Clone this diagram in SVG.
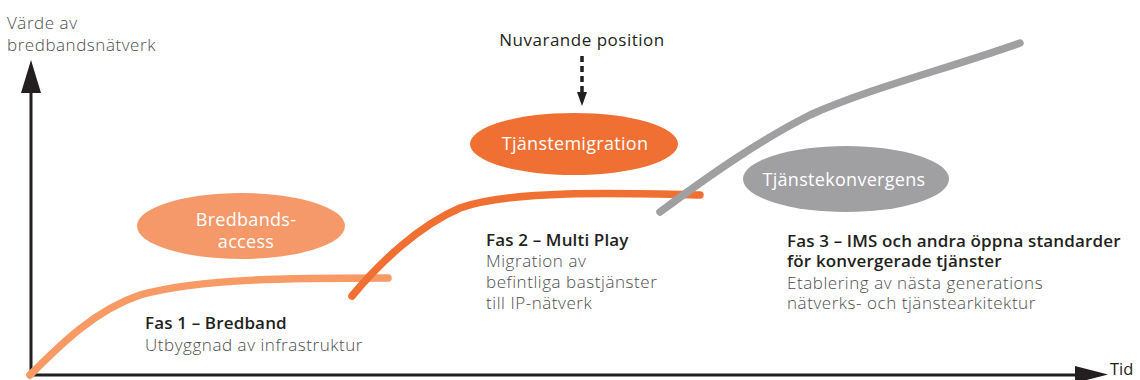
<svg xmlns="http://www.w3.org/2000/svg" width="1140" height="380" viewBox="0 0 1140 380">
  <style>
    .axis { stroke: #231f20; stroke-width: 3; fill: none; }
    .curve { fill: none; stroke-linecap: round; stroke-width: 7.5; }
    .t { font-family: "Open Sans", "Liberation Sans", sans-serif; }
    .light { font-size: 17px; font-weight: 300; fill: #4d4d4f; letter-spacing: 0.55px; }
    .head { font-size: 17px; font-weight: 600; fill: #231f20; letter-spacing: 0.15px; }
    .pill { font-family: "Open Sans", "Liberation Sans", sans-serif; font-size: 18px; font-weight: 400; fill: #ffffff; text-anchor: middle; letter-spacing: 0.3px; }
  </style>
  <rect width="1140" height="380" fill="#ffffff"/>

  <!-- axes -->
  <g id="axes">
    <path class="axis" d="M31,376 L31,90"/>
    <path d="M21,93 L31,60 L41,93 Z" fill="#231f20"/>
    <path class="axis" d="M30,375 L1078,375"/>
    <path d="M1075,366 L1108,374.5 L1075,383 Z" fill="#231f20"/>
    <text class="t light" x="7" y="29">Värde av</text>
    <text class="t light" x="7" y="51">bredbandsnätverk</text>
    <text class="t" x="1110" y="375" style="font-size:16.5px;font-weight:400;fill:#231f20">Tid</text>
  </g>

  <!-- phase curves and the position pointer -->
  <g id="connectors">
    <path class="curve" stroke="#f79a66" d="M30,375 C60,345 95,310 140,295 C200,278 300,278 388,278"/>
    <path class="curve" stroke="#f07033" d="M352,296 C380,262 420,225 460,208 C510,190 620,193 700,195"/>
    <path class="curve" stroke="#a0a0a3" d="M660,212 C710,175 760,140 810,115 C870,88 950,68 1020,43"/>
    <path d="M582,56 L582,92" stroke="#231f20" stroke-width="3.5" stroke-dasharray="6,4" fill="none"/>
    <path d="M577,92 L587,92 L582,106 Z" fill="#231f20"/>
  </g>

  <g id="node-nuvarande">
    <text class="t" x="582" y="46" text-anchor="middle" style="font-size:17px;font-weight:500;fill:#231f20;letter-spacing:0.5px">Nuvarande position</text>
  </g>

  <g id="node-bredbandsaccess">
    <ellipse cx="241" cy="226" rx="104" ry="33" fill="#f6996a"/>
    <text class="pill" x="246" y="226">Bredbands-</text>
    <text class="pill" x="246" y="248">access</text>
  </g>

  <g id="node-tjanstemigration">
    <ellipse cx="574" cy="144" rx="104" ry="31" fill="#f07033"/>
    <text class="pill" x="575" y="150">Tjänstemigration</text>
  </g>

  <g id="node-tjanstekonvergens">
    <ellipse cx="846" cy="179" rx="103" ry="33" fill="#a0a0a3"/>
    <text class="pill" x="844" y="186">Tjänstekonvergens</text>
  </g>

  <g id="node-fas1">
    <text class="t head" x="145" y="329">Fas 1 – Bredband</text>
    <text class="t light" x="145" y="351">Utbyggnad av infrastruktur</text>
  </g>

  <g id="node-fas2">
    <text class="t head" x="486" y="246">Fas 2 – Multi Play</text>
    <text class="t light" x="486" y="267">Migration av</text>
    <text class="t light" x="486" y="288">befintliga bastjänster</text>
    <text class="t light" x="486" y="309">till IP-nätverk</text>
  </g>

  <g id="node-fas3">
    <text class="t head" x="787" y="247">Fas 3 – IMS och andra öppna standarder</text>
    <text class="t head" x="787" y="267">för konvergerade tjänster</text>
    <text class="t light" x="787" y="289">Etablering av nästa generations</text>
    <text class="t light" x="787" y="309">nätverks- och tjänstearkitektur</text>
  </g>
</svg>
